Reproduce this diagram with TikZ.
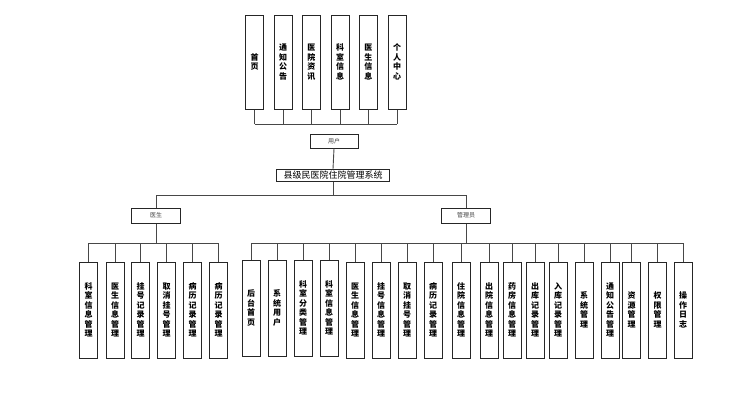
\documentclass[tikz,border=0pt]{standalone}
\usepackage{fontspec}
\newfontfamily\cjk{Noto Sans CJK SC}
\tikzset{
  conn/.style={draw=black!72, line width=0.9pt},
  vbox/.style={draw=black!85, line width=1pt, fill=white, minimum width=18pt,
    text width=12pt, inner sep=0pt, align=center,
    font=\cjk\bfseries\fontsize{8}{9.5}\selectfont},
  hbox/.style={draw=black!85, line width=1pt, fill=white, inner sep=0pt,
    text=black!75, font=\cjk\fontsize{6}{7}\selectfont},
  sysbox/.style={draw=black!85, line width=1pt, fill=white, inner sep=0pt,
    minimum width=113pt, minimum height=12.5pt,
    font=\cjk\fontsize{9}{10}\selectfont},
}
\begin{document}
\begin{tikzpicture}[x=1pt,y=-1pt]
\useasboundingbox[fill=white] (0,0) rectangle (739,402);

% bus levels
\coordinate (tbus) at (0,124);
\coordinate (mbus) at (0,195);
\coordinate (bbus) at (0,243);

% front-end pages
\foreach \i/\x/\t in {1/254.7/{首\\页}, 2/283/{通\\知\\公\\告}, 3/311.3/{医\\院\\资\\讯},
                      4/340/{科\\室\\信\\息}, 5/368.3/{医\\生\\信\\息}, 6/397/{个\\人\\中\\心}}
  \node[vbox, minimum height=94pt] (t\i) at (\x,62) {\t};

\node[hbox, minimum width=48pt, minimum height=14pt] (user) at (334,141) {用户};
\node[sysbox] (sys) at (333,175.5) {县级民医院住院管理系统};
\node[hbox, minimum width=49pt, minimum height=15pt] (doc) at (156,215.5) {医生};
\node[hbox, minimum width=49pt, minimum height=15pt] (adm) at (466,215.5) {管理员};

% doctor functions
\foreach \i/\x/\t in {1/88.5/{科\\室\\信\\息\\管\\理}, 2/115/{医\\生\\信\\息\\管\\理},
                      3/140.5/{挂\\号\\记\\录\\管\\理}, 4/166.5/{取\\消\\挂\\号\\管\\理},
                      5/192.5/{病\\历\\记\\录\\管\\理}, 6/218.5/{病\\历\\记\\录\\管\\理}}
  \node[vbox, minimum height=96pt] (d\i) at (\x,310) {\t};

% administrator functions
\foreach \i/\x/\y/\t in {1/251/308/{后\\台\\首\\页}, 2/277/308/{系\\统\\用\\户},
                         3/303/308/{科\\室\\分\\类\\管\\理}, 4/329/308/{科\\室\\信\\息\\管\\理},
                         5/355/310/{医\\生\\信\\息\\管\\理}, 6/381/310/{挂\\号\\信\\息\\管\\理},
                         7/407/310/{取\\消\\挂\\号\\管\\理}, 8/433/310/{病\\历\\记\\录\\管\\理},
                         9/461/310/{住\\院\\信\\息\\管\\理}, 10/489/310/{出\\院\\信\\息\\管\\理},
                         11/512/310/{药\\房\\信\\息\\管\\理}, 12/535/310/{出\\库\\记\\录\\管\\理},
                         13/558/310/{入\\库\\记\\录\\管\\理}, 14/584/310/{系\\统\\管\\理},
                         15/610/310/{通\\知\\公\\告\\管\\理}, 16/631.5/310/{资\\源\\管\\理},
                         17/657.5/310/{权\\限\\管\\理}, 18/683/310/{操\\作\\日\\志}}
  \node[vbox, minimum height=96pt] (a\i) at (\x,\y) {\t};

% connectors: front-end pages
\foreach \i in {1,...,6}
  \draw[conn] (t\i.south) -- (t\i.south |- tbus);
\draw[conn] (t1.south |- tbus) -- (t6.south |- tbus);

% connectors: system to roles
\draw[conn] (user.south) -- (sys.north);
\draw[conn] (sys.south) -- (sys.south |- mbus);
\draw[conn] (doc.north |- mbus) -- (adm.north |- mbus);
\draw[conn] (doc.north |- mbus) -- (doc.north);
\draw[conn] (adm.north |- mbus) -- (adm.north);

% connectors: doctor
\draw[conn] (doc.south) -- (doc.south |- bbus);
\draw[conn] (d1.north |- bbus) -- (d6.north |- bbus);
\foreach \i in {1,...,6}
  \draw[conn] (d\i.north |- bbus) -- (d\i.north);

% connectors: administrator
\draw[conn] (adm.south) -- (adm.south |- bbus);
\draw[conn] (a1.north |- bbus) -- (a18.north |- bbus);
\foreach \i in {1,...,18}
  \draw[conn] (a\i.north |- bbus) -- (a\i.north);
\end{tikzpicture}
\end{document}
